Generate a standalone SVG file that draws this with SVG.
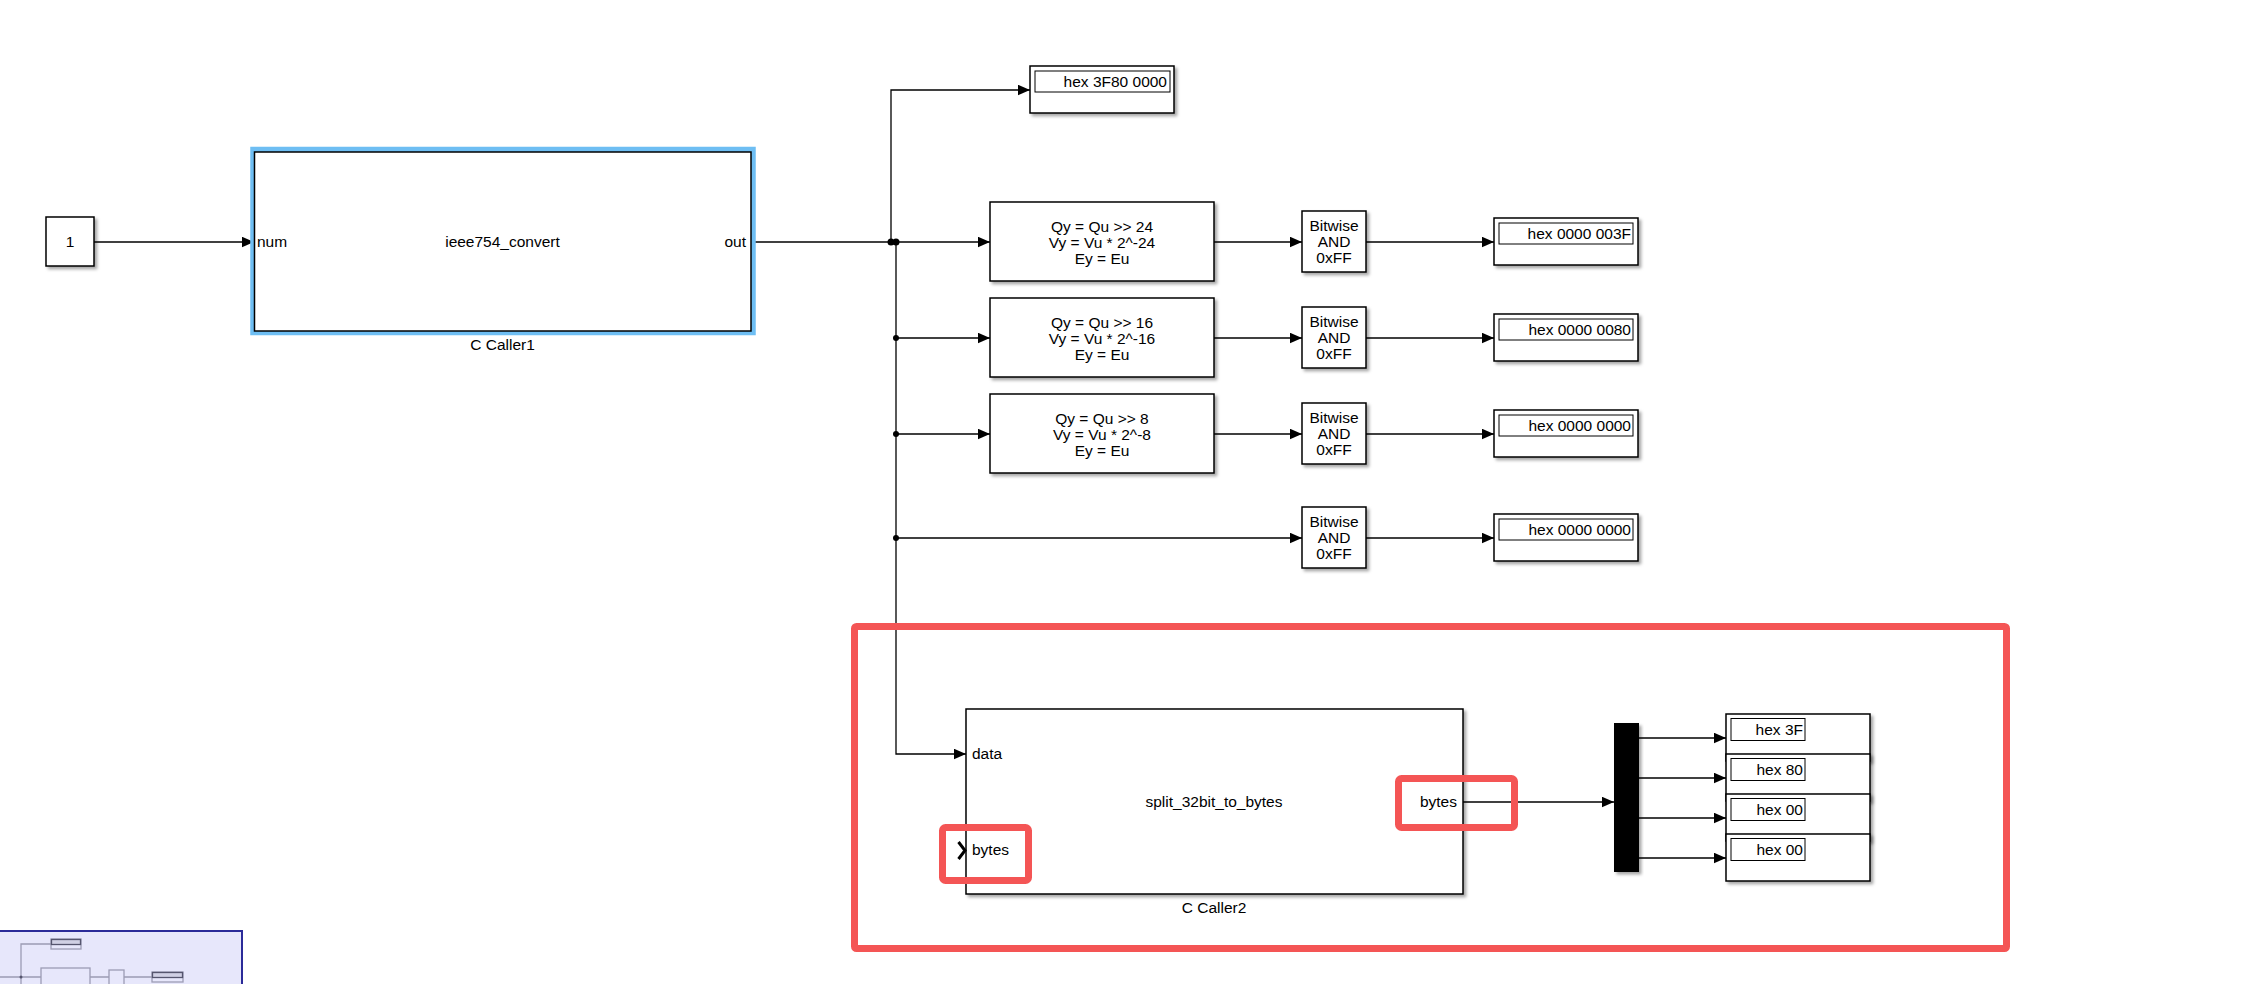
<svg xmlns="http://www.w3.org/2000/svg" width="2262" height="984" viewBox="0 0 2262 984">
<style>
text{font-family:"Liberation Sans",Arial,sans-serif;font-size:15.5px;fill:#000}
.blk{fill:#fff;stroke:#000;stroke-width:1.5}
.shd{filter:url(#sh)}
.ln{fill:none;stroke:#000;stroke-width:1.3}
.arr{marker-end:url(#ah)}
.mid{text-anchor:middle}
.end{text-anchor:end}
.red{fill:none;stroke:#F45555;stroke-width:7}
.th{fill:none;stroke:#9C9CB4;stroke-width:1.3}
</style>
<defs>
<filter id="sh" x="-10%" y="-10%" width="130%" height="130%">
<feDropShadow dx="2.5" dy="2.5" stdDeviation="1.5" flood-color="#000" flood-opacity="0.35"/>
</filter>
<marker id="ah" markerUnits="userSpaceOnUse" markerWidth="13" markerHeight="11" refX="12.5" refY="5.5" orient="auto">
<path d="M0,0 L12.5,5.5 L0,11 Z" fill="#000"/>
</marker>
</defs>
<rect width="2262" height="984" fill="#fff"/>

<g id="connectors">
<path class="ln arr" d="M94,242 H254"/>
<path class="ln arr" d="M751,242 H990"/>
<path class="ln arr" d="M891,242 V90 H1030"/>
<path class="ln arr" d="M896,242 V754 H966"/>
<path class="ln arr" d="M896,338 H990"/>
<path class="ln arr" d="M896,434 H990"/>
<path class="ln arr" d="M896,538 H1302"/>
<path class="ln arr" d="M1214,242 H1302"/>
<path class="ln arr" d="M1214,338 H1302"/>
<path class="ln arr" d="M1214,434 H1302"/>
<path class="ln arr" d="M1366,242 H1494"/>
<path class="ln arr" d="M1366,338 H1494"/>
<path class="ln arr" d="M1366,434 H1494"/>
<path class="ln arr" d="M1366,538 H1494"/>
<path class="ln arr" d="M1463,802 H1614"/>
<path class="ln arr" d="M1639,738 H1726"/>
<path class="ln arr" d="M1639,778 H1726"/>
<path class="ln arr" d="M1639,818 H1726"/>
<path class="ln arr" d="M1639,858 H1726"/>
<circle cx="891" cy="242" r="3.5"/>
<circle cx="896" cy="242" r="3.5"/>
<circle cx="896" cy="338" r="3"/>
<circle cx="896" cy="434" r="3"/>
<circle cx="896" cy="538" r="3"/>
</g>

<g id="constant">
<rect class="blk shd" x="46" y="217" width="48" height="49"/>
<text class="mid" x="70" y="247">1</text>
</g>

<g id="c_caller1">
<rect x="253" y="149.5" width="500" height="183" fill="none" stroke="#6EBEF3" stroke-width="5.5"/>
<rect class="blk" x="254.5" y="152" width="496.5" height="179"/>
<text x="257" y="247">num</text>
<text class="end" x="746" y="247">out</text>
<text class="mid" x="502.5" y="247">ieee754_convert</text>
<text class="mid" x="502.5" y="350">C Caller1</text>
</g>

<g id="display_float">
<rect class="blk shd" x="1030" y="66" width="144" height="47"/>
<rect x="1035" y="71" width="135" height="21" fill="none" stroke="#000" stroke-width="1"/>
<text class="end" x="1167" y="86.5">hex 3F80 0000</text>
</g>

<g id="shift24">
<rect class="blk shd" x="990" y="202" width="224" height="79"/>
<text class="mid" x="1102" y="232">Qy = Qu &gt;&gt; 24</text>
<text class="mid" x="1102" y="248">Vy = Vu * 2^-24</text>
<text class="mid" x="1102" y="264">Ey = Eu</text>
</g>
<g id="shift16">
<rect class="blk shd" x="990" y="298" width="224" height="79"/>
<text class="mid" x="1102" y="328">Qy = Qu &gt;&gt; 16</text>
<text class="mid" x="1102" y="344">Vy = Vu * 2^-16</text>
<text class="mid" x="1102" y="360">Ey = Eu</text>
</g>
<g id="shift8">
<rect class="blk shd" x="990" y="394" width="224" height="79"/>
<text class="mid" x="1102" y="424">Qy = Qu &gt;&gt; 8</text>
<text class="mid" x="1102" y="440">Vy = Vu * 2^-8</text>
<text class="mid" x="1102" y="456">Ey = Eu</text>
</g>

<g id="and1">
<rect class="blk shd" x="1302" y="211" width="64" height="61"/>
<text class="mid" x="1334" y="231">Bitwise</text>
<text class="mid" x="1334" y="247">AND</text>
<text class="mid" x="1334" y="263">0xFF</text>
</g>
<g id="and2">
<rect class="blk shd" x="1302" y="307" width="64" height="61"/>
<text class="mid" x="1334" y="327">Bitwise</text>
<text class="mid" x="1334" y="343">AND</text>
<text class="mid" x="1334" y="359">0xFF</text>
</g>
<g id="and3">
<rect class="blk shd" x="1302" y="403" width="64" height="61"/>
<text class="mid" x="1334" y="423">Bitwise</text>
<text class="mid" x="1334" y="439">AND</text>
<text class="mid" x="1334" y="455">0xFF</text>
</g>
<g id="and4">
<rect class="blk shd" x="1302" y="507" width="64" height="61"/>
<text class="mid" x="1334" y="527">Bitwise</text>
<text class="mid" x="1334" y="543">AND</text>
<text class="mid" x="1334" y="559">0xFF</text>
</g>

<g id="display1">
<rect class="blk shd" x="1494" y="218" width="144" height="47"/>
<rect x="1499" y="223" width="134" height="21" fill="none" stroke="#000" stroke-width="1"/>
<text class="end" x="1631" y="238.5">hex 0000 003F</text>
</g>
<g id="display2">
<rect class="blk shd" x="1494" y="314" width="144" height="47"/>
<rect x="1499" y="319" width="134" height="21" fill="none" stroke="#000" stroke-width="1"/>
<text class="end" x="1631" y="334.5">hex 0000 0080</text>
</g>
<g id="display3">
<rect class="blk shd" x="1494" y="410" width="144" height="47"/>
<rect x="1499" y="415" width="134" height="21" fill="none" stroke="#000" stroke-width="1"/>
<text class="end" x="1631" y="430.5">hex 0000 0000</text>
</g>
<g id="display4">
<rect class="blk shd" x="1494" y="514" width="144" height="47"/>
<rect x="1499" y="519" width="134" height="21" fill="none" stroke="#000" stroke-width="1"/>
<text class="end" x="1631" y="534.5">hex 0000 0000</text>
</g>

<g id="c_caller2">
<rect class="blk shd" x="966" y="709" width="497" height="185"/>
<text x="972" y="759">data</text>
<text class="mid" x="1214" y="807">split_32bit_to_bytes</text>
<text class="end" x="1457" y="807">bytes</text>
<polyline points="958.5,842 965,850.5 958.5,859" fill="none" stroke="#000" stroke-width="3"/>
<text x="972" y="855">bytes</text>
<text class="mid" x="1214" y="913">C Caller2</text>
</g>

<g id="demux">
<rect x="1614" y="723" width="25" height="149" fill="#000" class="shd"/>
</g>

<g id="display_b1">
<rect class="blk shd" x="1726" y="714" width="144" height="47"/>
<rect x="1731" y="718.5" width="74" height="22" fill="none" stroke="#000" stroke-width="1"/>
<text class="end" x="1803" y="735">hex 3F</text>
</g>
<g id="display_b2">
<rect class="blk shd" x="1726" y="754" width="144" height="47"/>
<rect x="1731" y="758.5" width="74" height="22" fill="none" stroke="#000" stroke-width="1"/>
<text class="end" x="1803" y="775">hex 80</text>
</g>
<g id="display_b3">
<rect class="blk shd" x="1726" y="794" width="144" height="47"/>
<rect x="1731" y="798.5" width="74" height="22" fill="none" stroke="#000" stroke-width="1"/>
<text class="end" x="1803" y="815">hex 00</text>
</g>
<g id="display_b4">
<rect class="blk shd" x="1726" y="834" width="144" height="47"/>
<rect x="1731" y="838.5" width="74" height="22" fill="none" stroke="#000" stroke-width="1"/>
<text class="end" x="1803" y="855">hex 00</text>
</g>

<g id="highlights">
<rect class="red" x="854.5" y="626.5" width="1152" height="322" rx="2"/>
<rect class="red" x="942.5" y="827.5" width="86" height="53" rx="3"/>
<rect class="red" x="1398.5" y="778.5" width="116" height="49" rx="3"/>
</g>

<g id="navigator">
<rect x="-3" y="931" width="245" height="60" fill="#E7E7FB" stroke="#2B2B99" stroke-width="2"/>
<path class="th" d="M0,977 H41 M21,977 V944 H51 M21,977 V984 M90,977 H109 M124,977 H152"/>
<rect x="41" y="968" width="49" height="20" class="th"/>
<rect x="109" y="970" width="15" height="18" class="th"/>
<rect x="51" y="939" width="30" height="10" class="th"/>
<rect x="51.5" y="939.5" width="29" height="5" fill="#D0D0E4" stroke="#55556E" stroke-width="1.3"/>
<rect x="152" y="972" width="31" height="10" class="th"/>
<rect x="152.5" y="972.5" width="30" height="5" fill="#D0D0E4" stroke="#55556E" stroke-width="1.3"/>
<circle cx="21" cy="977" r="1.5" fill="#55556E"/>
</g>
</svg>
